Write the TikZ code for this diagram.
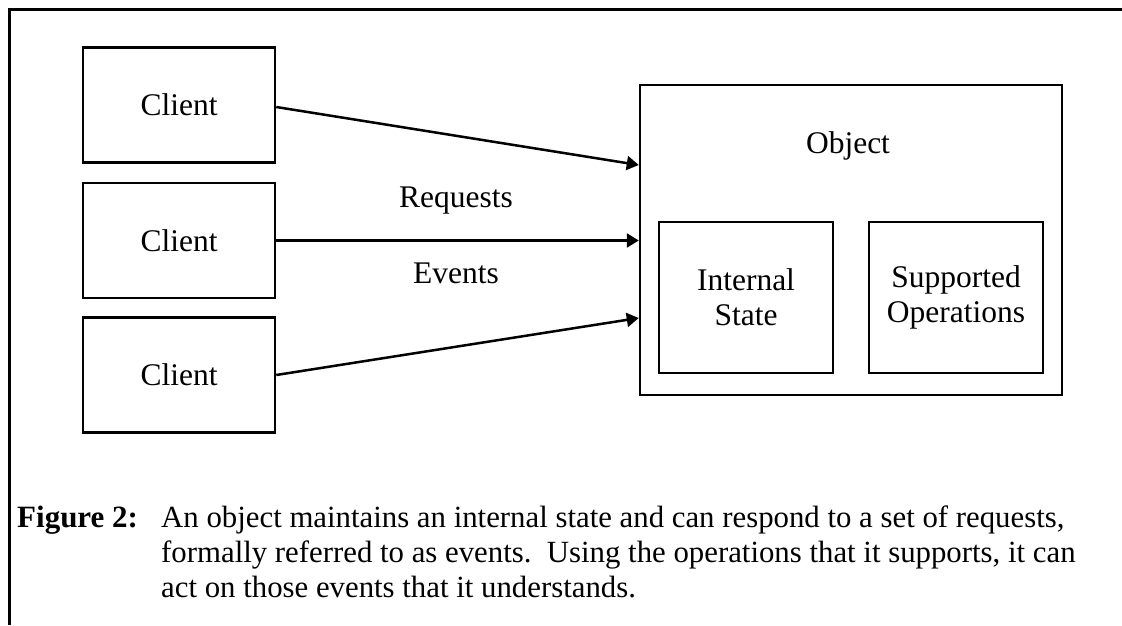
\documentclass[tikz,border=0pt]{standalone}
\usepackage{fontspec}
\setmainfont{Liberation Serif}
\usetikzlibrary{arrows.meta}
\usetikzlibrary{positioning}

\tikzset{
    txt/.style={font=\fontsize{31.5}{35}\selectfont},
    box/.style={draw, line width=2.5pt, inner sep=0pt, align=center, txt},
    clientbox/.style={box, minimum width=192pt, minimum height=115pt},
    partbox/.style={box, minimum width=174pt, minimum height=151pt},
    flow/.style={line width=2.5pt, -{Triangle[length=12pt,width=14pt]}}
}

\begin{document}
\begin{tikzpicture}[x=1pt, y=-1pt]
        \useasboundingbox (0, 0) rectangle (1122, 625);

        % open frame
        \draw[line width=3pt] (9, 625) -- (9, 9) -- (1122, 9);

        \node[clientbox] (c1) at (179, 105) {Client};
        \node[clientbox] (c2) at (179, 240.5) {Client};
        \node[clientbox] (c3) at (179, 375) {Client};

        \node[box, minimum width=422pt, minimum height=310pt] (obj) at (851, 240) {};
        \node[txt, anchor=base] (objlabel) at (848, 153) {Object};
        \node[partbox] (state) at (746, 297.5) {Internal\\State};
        \node[partbox] (ops) at (956, 297.5) {Supported\\Operations};

        \coordinate (in1) at (obj.west |- 0, 165);
        \coordinate (in2) at (obj.west |- 0, 240.5);
        \coordinate (in3) at (obj.west |- 0, 318);

        \draw[flow] ([yshift=-2pt]c1.east) -- (in1);
        \draw[flow] (c2.east) -- (in2);
        \draw[flow] (c3.east) -- (in3);

        \node[txt, anchor=base] (req) at (456, 207) {Requests};
        \node[txt, anchor=base] (ev) at (456, 283) {Events};

        % caption
        \node[anchor=base west, inner sep=0pt, font=\fontsize{31}{35}\selectfont\bfseries] (fig) at (17, 527) {Figure 2:};
        \node[anchor=north west, align=left, inner sep=0pt, font=\fontsize{30.8}{35}\selectfont]
            (caption) at (161, 506) {An object maintains an internal state and can respond to a set of requests,\\
            formally referred to as events.\ \ Using the operations that it supports, it can\\
            act on those events that it understands.};
    \end{tikzpicture}
\end{document}
